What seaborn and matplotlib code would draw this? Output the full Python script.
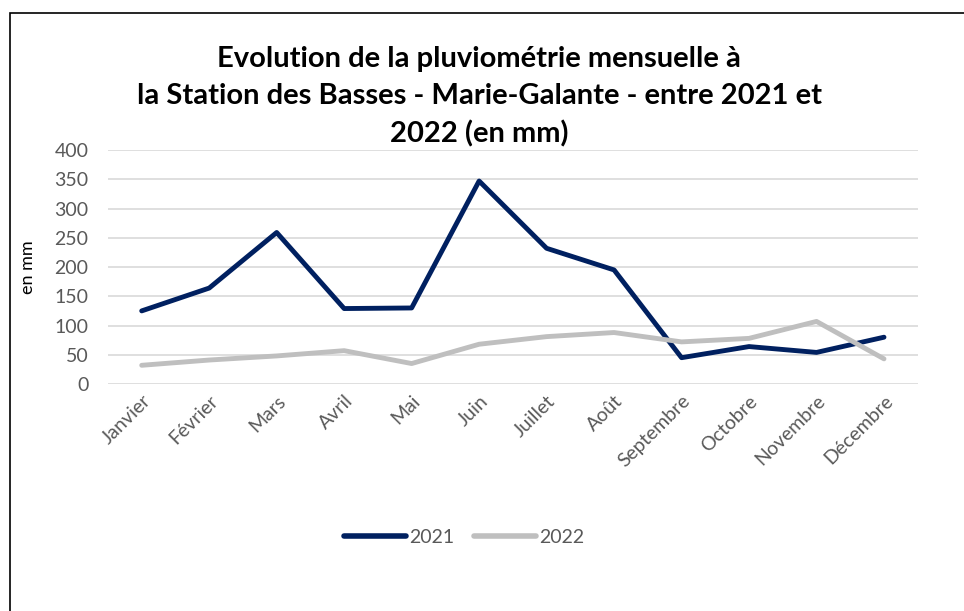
import pandas as pd
import seaborn as sns
import matplotlib.pyplot as plt
from matplotlib.patches import Rectangle

mois = ["Janvier", "Février", "Mars", "Avril", "Mai", "Juin", "Juillet",
        "Août", "Septembre", "Octobre", "Novembre", "Décembre"]
pluie_2021 = [125, 164, 259, 129, 130, 347, 232, 195, 45, 64, 54, 80]
pluie_2022 = [32, 41, 48, 57, 35, 68, 81, 88, 72, 78, 107, 43]

df = pd.DataFrame({
    "mois": mois * 2,
    "pluie": pluie_2021 + pluie_2022,
    "annee": ["2021"] * 12 + ["2022"] * 12,
})

sns.set_style("white")
plt.rcParams['font.family'] = ['Lato', 'DejaVu Sans']

fig = plt.figure(figsize=(9.64, 6.11), dpi=100)
ax = fig.add_axes([0.112, 0.3715, 0.84, 0.383])

sns.lineplot(data=df, x="mois", y="pluie", hue="annee", sort=False,
             palette={"2021": "#002060", "2022": "#BFBFBF"},
             linewidth=3.5, ax=ax)
for l in ax.lines:
    l.set_solid_joinstyle("round")
    l.set_solid_capstyle("round")

ax.set_xlim(-0.5, 11.5)
ax.set_ylim(0, 400)
ax.set_yticks(range(0, 401, 50))
ax.yaxis.grid(True, color="#D9D9D9", linewidth=1.2)
ax.set_axisbelow(True)
for s in ax.spines.values():
    s.set_visible(False)
ax.tick_params(length=0, colors="#595959", labelsize=14)
ax.tick_params(axis="y", pad=14)
ax.tick_params(axis="x", pad=6)
plt.setp(ax.get_xticklabels(), rotation=45, ha="right", rotation_mode="anchor")
ax.set_xlabel("")
ax.set_ylabel("en mm", fontsize=13, color="black", labelpad=13)

fig.text(0.497, 0.842, "Evolution de la pluviométrie mensuelle à\n"
         "la Station des Basses - Marie-Galante - entre 2021 et\n2022 (en mm)",
         ha="center", va="center", fontsize=21, fontweight="bold",
         linespacing=1.52, color="black")

leg = ax.legend(loc="center", bbox_to_anchor=(0.44, -0.655), ncol=2,
                frameon=False, fontsize=14, handlelength=3.2, columnspacing=1.0,
                handletextpad=0.15)
for t in leg.get_texts():
    t.set_color("#595959")
for h in leg.get_lines():
    h.set_linewidth(4)

fig.patches.append(Rectangle((10 / 964, -0.1), 1.2, 1.1 - 13 / 611,
                             transform=fig.transFigure, fill=False,
                             edgecolor="black", linewidth=1.2))

fig.savefig("out.png", dpi=100)
